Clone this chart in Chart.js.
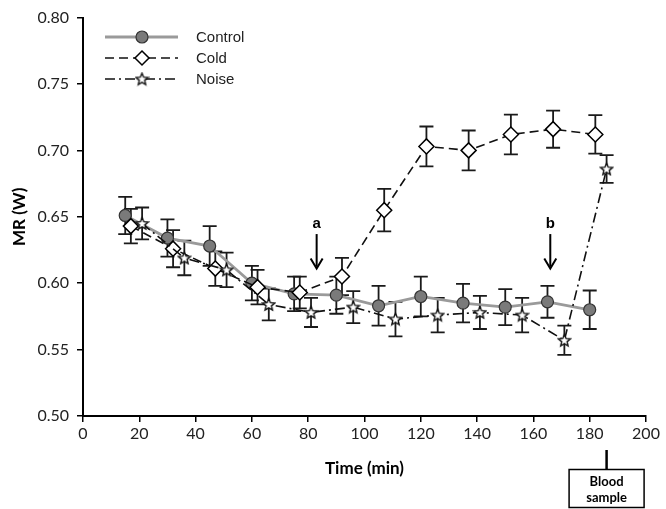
<!DOCTYPE html>
<html><head><meta charset="utf-8">
<script src="https://cdn.jsdelivr.net/npm/chart.js@4"></script>
<style>html,body{margin:0;padding:0;background:#fff}#wrap{width:666px;height:509px}</style>
</head><body><div id="wrap"><canvas id="c" width="666" height="509"></canvas></div>
<script>
// ---- data ----
const controlTime = [15, 30, 45, 60, 75, 90, 105, 120, 135, 150, 165, 180];
const controlMR   = [0.651, 0.634, 0.628, 0.600, 0.592, 0.591, 0.583, 0.590, 0.585, 0.582, 0.586, 0.580];
const controlErr  = [0.014, 0.014, 0.015, 0.013, 0.013, 0.014, 0.015, 0.015, 0.0145, 0.0135, 0.012, 0.0145];

const coldTime = [17, 32, 47, 62, 77, 92, 107, 122, 137, 152, 167, 182];
const coldMR   = [0.643, 0.626, 0.611, 0.597, 0.593, 0.605, 0.655, 0.703, 0.700, 0.712, 0.716, 0.712];
const coldErr  = [0.013, 0.014, 0.013, 0.013, 0.012, 0.014, 0.016, 0.015, 0.015, 0.015, 0.014, 0.0145];

const noiseTime = [21, 36, 51, 66, 81, 96, 111, 126, 141, 156, 171, 186];
const noiseMR   = [0.645, 0.619, 0.610, 0.584, 0.578, 0.582, 0.573, 0.576, 0.578, 0.576, 0.557, 0.686];
const noiseErr  = [0.012, 0.013, 0.013, 0.012, 0.011, 0.012, 0.013, 0.013, 0.0125, 0.013, 0.011, 0.0105];

const seriesNames = ['Control', 'Cold', 'Noise'];
const xTicks = [0, 20, 40, 60, 80, 100, 120, 140, 160, 180, 200];
const yTicks = [0.50, 0.55, 0.60, 0.65, 0.70, 0.75, 0.80];
const arrowMarks = [{label: 'a', t: 83, from: 0.637, to: 0.611}, {label: 'b', t: 166, from: 0.637, to: 0.611}];
const bloodSampleTime = 186;

// ---- star marker ----
function makeStar(size) {
  const c = document.createElement('canvas');
  c.width = size; c.height = size;
  const g = c.getContext('2d');
  const cx = size / 2, cy = size / 2 + 0.5, R = size / 2 - 1.2, r = R * 0.45;
  g.beginPath();
  for (let i = 0; i < 10; i++) {
    const rad = i % 2 === 0 ? R : r;
    const a = -Math.PI / 2 + i * Math.PI / 5;
    const px = cx + rad * Math.cos(a), py = cy + rad * Math.sin(a);
    if (i === 0) g.moveTo(px, py); else g.lineTo(px, py);
  }
  g.closePath();
  g.fillStyle = '#fff'; g.fill();
  g.lineWidth = 1.4; g.strokeStyle = '#111'; g.stroke();
  return c;
}
const starImg = makeStar(15);

const pts = (t, v) => t.map((x, i) => ({x, y: v[i]}));
const errs = [controlErr, coldErr, noiseErr];

const errorBars = {
  id: 'errorBars',
  beforeDatasetsDraw(chart) {
    const {ctx, scales: {x, y}} = chart;
    ctx.save();
    ctx.strokeStyle = '#1a1a1a';
    ctx.lineWidth = 1.8;
    chart.data.datasets.forEach((ds, di) => {
      ds.data.forEach((p, i) => {
        const e = errs[di][i];
        const px = x.getPixelForValue(p.x);
        const yt = y.getPixelForValue(p.y + e), yb = y.getPixelForValue(p.y - e);
        ctx.beginPath();
        ctx.moveTo(px, yt); ctx.lineTo(px, yb);
        ctx.moveTo(px - 7, yt); ctx.lineTo(px + 7, yt);
        ctx.moveTo(px - 7, yb); ctx.lineTo(px + 7, yb);
        ctx.stroke();
      });
    });
    ctx.restore();
  }
};

const extras = {
  id: 'extras',
  afterDraw(chart) {
    const {ctx, scales: {x, y}, chartArea} = chart;
    ctx.save();
    // arrows
    ctx.fillStyle = '#000'; ctx.strokeStyle = '#000';
    arrowMarks.forEach(a => {
      const px = x.getPixelForValue(a.t);
      const y0 = y.getPixelForValue(a.from), y1 = y.getPixelForValue(a.to);
      ctx.font = 'bold 15px "Liberation Sans", Arial, sans-serif';
      ctx.textAlign = 'center'; ctx.textBaseline = 'bottom';
      ctx.fillText(a.label, px, y0 - 3);
      ctx.lineWidth = 2;
      ctx.beginPath(); ctx.moveTo(px, y0); ctx.lineTo(px, y1 - 2); ctx.stroke();
      ctx.beginPath(); ctx.moveTo(px - 6, y1 - 10); ctx.lineTo(px, y1); ctx.lineTo(px + 6, y1 - 10); ctx.stroke();
    });
    // axis titles
    ctx.font = 'bold 17px Lato, "Liberation Sans", sans-serif';
    ctx.textAlign = 'center'; ctx.textBaseline = 'middle';
    ctx.fillText('Time (min)', (chartArea.left + chartArea.right) / 2, 469);
    ctx.save();
    ctx.translate(20, (chartArea.top + chartArea.bottom) / 2);
    ctx.rotate(-Math.PI / 2);
    ctx.fillText('MR (W)', 0, 0);
    ctx.restore();
    // blood sample box
    const bx = x.getPixelForValue(bloodSampleTime);
    ctx.lineWidth = 2.5;
    ctx.beginPath(); ctx.moveTo(bx, 450); ctx.lineTo(bx, 469); ctx.stroke();
    ctx.lineWidth = 1.5;
    ctx.strokeRect(bx - 37.5, 469.5, 75, 38);
    ctx.font = 'bold 13px Lato, "Liberation Sans", sans-serif';
    ctx.fillText('Blood', bx, 482);
    ctx.fillText('sample', bx, 498);
    // legend
    const rows = [37, 58, 79];
    const x0 = 105, x1 = 178, xm = 142;
    ctx.font = '15px "Liberation Sans", Arial, sans-serif';
    ctx.textAlign = 'left';
    chart.data.datasets.forEach((ds, i) => {
      const ry = rows[i];
      ctx.save();
      ctx.strokeStyle = ds.borderColor; ctx.lineWidth = ds.borderWidth;
      ctx.setLineDash(ds.borderDash || []);
      ctx.beginPath(); ctx.moveTo(x0, ry); ctx.lineTo(x1, ry); ctx.stroke();
      ctx.restore();
      ctx.save();
      if (i === 0) {
        ctx.beginPath(); ctx.arc(xm, ry, 6, 0, Math.PI * 2);
        ctx.fillStyle = ds.pointBackgroundColor; ctx.fill();
        ctx.lineWidth = 1.2; ctx.strokeStyle = ds.pointBorderColor; ctx.stroke();
      } else if (i === 1) {
        ctx.beginPath(); ctx.moveTo(xm, ry - 7); ctx.lineTo(xm + 7, ry); ctx.lineTo(xm, ry + 7); ctx.lineTo(xm - 7, ry); ctx.closePath();
        ctx.fillStyle = '#fff'; ctx.fill(); ctx.lineWidth = 1.5; ctx.strokeStyle = '#000'; ctx.stroke();
      } else {
        ctx.drawImage(starImg, xm - 7.5, ry - 7.5);
      }
      ctx.restore();
      ctx.fillStyle = '#222';
      ctx.textBaseline = 'middle';
      ctx.fillText(seriesNames[i], 196, ry + 1);
    });
    ctx.restore();
  }
};

new Chart(document.getElementById('c'), {
  type: 'line',
  data: {
    datasets: [
      {label: seriesNames[0], data: pts(controlTime, controlMR), borderColor: '#9a9a9a', borderWidth: 2.8,
       pointStyle: 'circle', pointRadius: 6, pointBackgroundColor: '#7a7a7a', pointBorderColor: '#333', pointBorderWidth: 1.2, order: 3},
      {label: seriesNames[1], data: pts(coldTime, coldMR), borderColor: '#111', borderWidth: 1.6, borderDash: [9, 5],
       pointStyle: 'rectRot', pointRadius: 7.5, pointBackgroundColor: '#fff', pointBorderColor: '#000', pointBorderWidth: 1.5, order: 2},
      {label: seriesNames[2], data: pts(noiseTime, noiseMR), borderColor: '#111', borderWidth: 1.6, borderDash: [10, 4, 2, 4],
       pointStyle: starImg, pointRadius: 7, order: 1}
    ]
  },
  options: {
    responsive: false, animation: false, devicePixelRatio: 1,
    layout: {padding: {left: 0, right: 20, top: 7, bottom: 0}},
    plugins: {legend: {display: false}, tooltip: {enabled: false}},
    scales: {
      x: {
        type: 'linear', min: 0, max: 200,
        afterBuildTicks(s) { s.ticks = xTicks.map(v => ({value: v})); },
        afterFit(s) { s.height = 93; },
        ticks: {color: '#222', font: {family: 'Lato, "Liberation Sans", sans-serif', size: 16}, padding: 2},
        grid: {display: true, drawOnChartArea: false, drawTicks: true, tickLength: 6, color: '#000', lineWidth: 1.5},
        border: {display: true, color: '#000', width: 2}
      },
      y: {
        type: 'linear', min: 0.5, max: 0.8,
        afterBuildTicks(s) { s.ticks = yTicks.map(v => ({value: v})); },
        afterFit(s) { s.width = 83; },
        ticks: {color: '#222', font: {family: 'Lato, "Liberation Sans", sans-serif', size: 16}, padding: 8,
                callback: v => Number(v).toFixed(2)},
        grid: {display: true, drawOnChartArea: false, drawTicks: true, tickLength: 6, color: '#000', lineWidth: 1.5},
        border: {display: true, color: '#000', width: 2}
      }
    }
  },
  plugins: [errorBars, extras]
});
</script></body></html>
